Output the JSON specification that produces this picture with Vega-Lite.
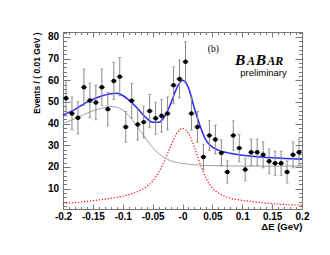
{
  "$schema": "https://vega.github.io/schema/vega-lite/v6.json",
  "width": 239,
  "height": 177,
  "autosize": {"type": "none"},
  "padding": {"left": 63, "top": 32, "right": 28, "bottom": 46},
  "background": "white",
  "config": {
    "view": {"stroke": "#777", "strokeWidth": 1},
    "axis": {"grid": false, "domain": false, "tickColor": "#777", "tickWidth": 1, "labelColor": "black", "titleColor": "black", "labelFont": "Liberation Sans", "titleFont": "Liberation Sans", "labelFlush": false, "labelOverlap": false}
  },
  "datasets": {
    "pts": [
      {"x": -0.195, "y": 51.7, "e": 8.1}, {"x": -0.185, "y": 44.7, "e": 7.6}, {"x": -0.175, "y": 42.7, "e": 7.4},
      {"x": -0.165, "y": 56.8, "e": 8.4}, {"x": -0.155, "y": 50.7, "e": 8.0}, {"x": -0.145, "y": 49.8, "e": 8.0},
      {"x": -0.135, "y": 56.8, "e": 8.4}, {"x": -0.125, "y": 46.7, "e": 7.7}, {"x": -0.115, "y": 59.7, "e": 8.6},
      {"x": -0.105, "y": 61.7, "e": 8.8}, {"x": -0.095, "y": 38.5, "e": 7.1}, {"x": -0.085, "y": 50.6, "e": 8.0},
      {"x": -0.075, "y": 39.6, "e": 7.2}, {"x": -0.065, "y": 40.7, "e": 7.3}, {"x": -0.055, "y": 45.8, "e": 7.7},
      {"x": -0.045, "y": 42.5, "e": 7.4}, {"x": -0.035, "y": 43.6, "e": 7.5}, {"x": -0.025, "y": 44.7, "e": 7.6},
      {"x": -0.015, "y": 57.7, "e": 8.5}, {"x": -0.005, "y": 60.6, "e": 8.7}, {"x": 0.005, "y": 68.6, "e": 9.2},
      {"x": 0.015, "y": 44.7, "e": 7.6}, {"x": 0.025, "y": 38.5, "e": 7.1}, {"x": 0.035, "y": 24.6, "e": 5.9},
      {"x": 0.045, "y": 34.5, "e": 6.8}, {"x": 0.055, "y": 32.7, "e": 6.6}, {"x": 0.065, "y": 26.5, "e": 6.0},
      {"x": 0.075, "y": 17.7, "e": 5.1}, {"x": 0.085, "y": 34.5, "e": 6.8}, {"x": 0.095, "y": 28.7, "e": 6.3},
      {"x": 0.105, "y": 18.8, "e": 5.2}, {"x": 0.115, "y": 26.8, "e": 6.1}, {"x": 0.125, "y": 26.8, "e": 6.1},
      {"x": 0.135, "y": 25.6, "e": 6.0}, {"x": 0.145, "y": 22.6, "e": 5.7}, {"x": 0.155, "y": 21.7, "e": 5.6},
      {"x": 0.165, "y": 21.7, "e": 5.6}, {"x": 0.175, "y": 17.7, "e": 5.1}, {"x": 0.185, "y": 25.6, "e": 6.0},
      {"x": 0.195, "y": 26.8, "e": 6.1}
    ],
    "total": [
      {"x": -0.2, "y": 44.0}, {"x": -0.18, "y": 46.6}, {"x": -0.16, "y": 49.9}, {"x": -0.14, "y": 52.3},
      {"x": -0.12, "y": 53.8}, {"x": -0.11, "y": 54.0}, {"x": -0.1, "y": 53.0}, {"x": -0.09, "y": 51.0},
      {"x": -0.08, "y": 48.4}, {"x": -0.07, "y": 45.4}, {"x": -0.06, "y": 42.5}, {"x": -0.05, "y": 40.6},
      {"x": -0.04, "y": 40.6}, {"x": -0.03, "y": 43.3}, {"x": -0.02, "y": 49.0}, {"x": -0.01, "y": 56.2},
      {"x": 0.0, "y": 60.0}, {"x": 0.01, "y": 56.5}, {"x": 0.02, "y": 47.0}, {"x": 0.03, "y": 38.5},
      {"x": 0.04, "y": 32.0}, {"x": 0.05, "y": 29.2}, {"x": 0.06, "y": 27.8}, {"x": 0.07, "y": 26.9},
      {"x": 0.08, "y": 26.3}, {"x": 0.1, "y": 25.4}, {"x": 0.12, "y": 24.8}, {"x": 0.15, "y": 24.2},
      {"x": 0.2, "y": 23.6}
    ],
    "bkg": [
      {"x": -0.2, "y": 40.0}, {"x": -0.18, "y": 42.3}, {"x": -0.16, "y": 44.8}, {"x": -0.14, "y": 46.8},
      {"x": -0.12, "y": 47.9}, {"x": -0.11, "y": 47.6}, {"x": -0.1, "y": 46.2}, {"x": -0.09, "y": 43.8},
      {"x": -0.08, "y": 40.3}, {"x": -0.07, "y": 36.5}, {"x": -0.06, "y": 32.5}, {"x": -0.05, "y": 29.0},
      {"x": -0.04, "y": 26.2}, {"x": -0.03, "y": 24.2}, {"x": -0.02, "y": 22.9}, {"x": -0.01, "y": 22.1},
      {"x": 0.0, "y": 21.6}, {"x": 0.02, "y": 21.0}, {"x": 0.04, "y": 20.7}, {"x": 0.07, "y": 20.5},
      {"x": 0.1, "y": 20.4}, {"x": 0.15, "y": 20.4}, {"x": 0.2, "y": 20.5}
    ],
    "sig": [
      {"x": -0.2, "y": 3.2}, {"x": -0.18, "y": 3.6}, {"x": -0.16, "y": 4.1}, {"x": -0.14, "y": 4.8},
      {"x": -0.12, "y": 5.5}, {"x": -0.1, "y": 6.5}, {"x": -0.09, "y": 7.2}, {"x": -0.08, "y": 8.1},
      {"x": -0.07, "y": 9.3}, {"x": -0.06, "y": 11.0}, {"x": -0.05, "y": 13.5}, {"x": -0.04, "y": 17.5},
      {"x": -0.03, "y": 23.0}, {"x": -0.02, "y": 29.5}, {"x": -0.01, "y": 35.3}, {"x": 0.0, "y": 37.8},
      {"x": 0.01, "y": 35.5}, {"x": 0.02, "y": 29.0}, {"x": 0.03, "y": 21.0}, {"x": 0.04, "y": 14.5},
      {"x": 0.05, "y": 10.3}, {"x": 0.06, "y": 8.0}, {"x": 0.07, "y": 6.6}, {"x": 0.08, "y": 5.6},
      {"x": 0.1, "y": 4.6}, {"x": 0.12, "y": 3.9}, {"x": 0.15, "y": 3.1}, {"x": 0.2, "y": 2.3}
    ]
  },
  "layer": [
    {
      "data": {"name": "sig"},
      "mark": {"type": "line", "color": "#ff0000", "strokeWidth": 1.2, "strokeDash": [1.2, 1.8], "interpolate": "monotone"},
      "encoding": {
        "x": {"field": "x", "type": "quantitative", "scale": {"domain": [-0.2, 0.2], "nice": false, "zero": false},
          "axis": {"orient": "bottom", "values": [-0.2, -0.15, -0.1, -0.05, 0, 0.05, 0.1, 0.15, 0.2], "tickSize": -5, "labelPadding": 7, "labelFontSize": 10, "labelFontWeight": "bold",
            "labelExpr": "abs(datum.value) < 0.0001 ? '-0' : (datum.value < 0 ? '-' + format(-datum.value, '~g') : format(datum.value, '~g'))",
            "title": "ΔE (GeV)", "titleFontSize": 9.5, "titleFontWeight": "bold", "titleAnchor": "end", "titleAlign": "right", "titleBaseline": "top", "titleX": 239, "titleY": 12.5}},
        "y": {"field": "y", "type": "quantitative", "scale": {"domain": [0.6, 82.3], "nice": false, "zero": false},
          "axis": {"orient": "left", "values": [10, 20, 30, 40, 50, 60, 70, 80], "tickSize": -7, "labelPadding": 11.5, "labelFontSize": 10, "labelFontWeight": "bold",
            "title": "Events / ( 0.01 GeV )", "titleFontSize": 8.5, "titleFontWeight": "bold", "titleAngle": 270, "titleAlign": "right", "titleBaseline": "middle", "titleAnchor": "end", "titleX": -26.5, "titleY": 0}}
      }
    },
    {
      "data": {"name": "bkg"},
      "mark": {"type": "line", "color": "#a0a0a0", "strokeWidth": 1, "interpolate": "monotone"},
      "encoding": {
        "x": {"field": "x", "type": "quantitative", "scale": {"domain": [-0.2, 0.2], "nice": false, "zero": false},
          "axis": {"orient": "bottom", "values": [-0.2, -0.19, -0.18, -0.17, -0.16, -0.15, -0.14, -0.13, -0.12, -0.11, -0.1, -0.09, -0.08, -0.07, -0.06, -0.05, -0.04, -0.03, -0.02, -0.01, 0, 0.01, 0.02, 0.03, 0.04, 0.05, 0.06, 0.07, 0.08, 0.09, 0.1, 0.11, 0.12, 0.13, 0.14, 0.15, 0.16, 0.17, 0.18, 0.19, 0.2], "tickSize": -2.5, "labels": false, "title": null}},
        "y": {"field": "y", "type": "quantitative", "scale": {"domain": [0.6, 82.3], "nice": false, "zero": false},
          "axis": {"orient": "left", "values": [2, 4, 6, 8, 10, 12, 14, 16, 18, 20, 22, 24, 26, 28, 30, 32, 34, 36, 38, 40, 42, 44, 46, 48, 50, 52, 54, 56, 58, 60, 62, 64, 66, 68, 70, 72, 74, 76, 78, 80, 82], "tickSize": -3.5, "labels": false, "title": null}}
      }
    },
    {
      "data": {"name": "total"},
      "mark": {"type": "line", "color": "#2a2aff", "strokeWidth": 1.5, "interpolate": "monotone"},
      "encoding": {
        "x": {"field": "x", "type": "quantitative", "scale": {"domain": [-0.2, 0.2], "nice": false, "zero": false},
          "axis": {"orient": "top", "values": [-0.2, -0.15, -0.1, -0.05, 0, 0.05, 0.1, 0.15, 0.2], "tickSize": -5, "labels": false, "title": null}},
        "y": {"field": "y", "type": "quantitative", "scale": {"domain": [0.6, 82.3], "nice": false, "zero": false},
          "axis": {"orient": "right", "values": [10, 20, 30, 40, 50, 60, 70, 80], "tickSize": -7, "labels": false, "title": null}}
      }
    },
    {
      "data": {"name": "pts"},
      "mark": {"type": "errorbar", "color": "#888888", "thickness": 1, "ticks": {"size": 3, "color": "#888888"}},
      "encoding": {
        "x": {"field": "x", "type": "quantitative", "scale": {"domain": [-0.2, 0.2], "nice": false, "zero": false},
          "axis": {"orient": "top", "values": [-0.2, -0.19, -0.18, -0.17, -0.16, -0.15, -0.14, -0.13, -0.12, -0.11, -0.1, -0.09, -0.08, -0.07, -0.06, -0.05, -0.04, -0.03, -0.02, -0.01, 0, 0.01, 0.02, 0.03, 0.04, 0.05, 0.06, 0.07, 0.08, 0.09, 0.1, 0.11, 0.12, 0.13, 0.14, 0.15, 0.16, 0.17, 0.18, 0.19, 0.2], "tickSize": -2.5, "labels": false, "title": null}},
        "y": {"field": "y", "type": "quantitative", "scale": {"domain": [0.6, 82.3], "nice": false, "zero": false},
          "axis": {"orient": "right", "values": [2, 4, 6, 8, 10, 12, 14, 16, 18, 20, 22, 24, 26, 28, 30, 32, 34, 36, 38, 40, 42, 44, 46, 48, 50, 52, 54, 56, 58, 60, 62, 64, 66, 68, 70, 72, 74, 76, 78, 80, 82], "tickSize": -3.5, "labels": false, "title": null}},
        "yError": {"field": "e"}
      }
    },
    {
      "data": {"name": "pts"},
      "mark": {"type": "tick", "orient": "horizontal", "color": "black", "size": 6, "thickness": 1.2},
      "encoding": {
        "x": {"field": "x", "type": "quantitative", "scale": {"domain": [-0.2, 0.2], "nice": false, "zero": false}, "axis": null},
        "y": {"field": "y", "type": "quantitative", "scale": {"domain": [0.6, 82.3], "nice": false, "zero": false}, "axis": null}
      }
    },
    {
      "data": {"name": "pts"},
      "mark": {"type": "point", "shape": "circle", "filled": true, "color": "black", "size": 20, "opacity": 1},
      "encoding": {
        "x": {"field": "x", "type": "quantitative", "scale": {"domain": [-0.2, 0.2], "nice": false, "zero": false}, "axis": null},
        "y": {"field": "y", "type": "quantitative", "scale": {"domain": [0.6, 82.3], "nice": false, "zero": false}, "axis": null}
      }
    },
    {
      "data": {"values": [{"x": 0.0515, "y": 74.3, "t": "(b)"}]},
      "mark": {"type": "text", "font": "Liberation Serif", "fontSize": 9.5, "align": "center", "baseline": "middle", "color": "black"},
      "encoding": {
        "x": {"field": "x", "type": "quantitative", "scale": {"domain": [-0.2, 0.2], "nice": false, "zero": false}, "axis": null},
        "y": {"field": "y", "type": "quantitative", "scale": {"domain": [0.6, 82.3], "nice": false, "zero": false}, "axis": null},
        "text": {"field": "t"}
      }
    },
    {
      "data": {"values": [{"x": 0.0879, "y": 67.2, "t": "B"}, {"x": 0.1225, "y": 67.2, "t": "B"}]},
      "mark": {"type": "text", "font": "Liberation Serif", "fontSize": 15.5, "fontWeight": "bold", "fontStyle": "italic", "align": "left", "baseline": "alphabetic", "color": "black"},
      "encoding": {
        "x": {"field": "x", "type": "quantitative", "scale": {"domain": [-0.2, 0.2], "nice": false, "zero": false}, "axis": null},
        "y": {"field": "y", "type": "quantitative", "scale": {"domain": [0.6, 82.3], "nice": false, "zero": false}, "axis": null},
        "text": {"field": "t"}
      }
    },
    {
      "data": {"values": [{"x": 0.1078, "y": 67.2, "t": "A"}, {"x": 0.1418, "y": 67.2, "t": "AR"}]},
      "mark": {"type": "text", "font": "Liberation Serif", "fontSize": 12, "fontWeight": "bold", "fontStyle": "italic", "align": "left", "baseline": "alphabetic", "color": "black"},
      "encoding": {
        "x": {"field": "x", "type": "quantitative", "scale": {"domain": [-0.2, 0.2], "nice": false, "zero": false}, "axis": null},
        "y": {"field": "y", "type": "quantitative", "scale": {"domain": [0.6, 82.3], "nice": false, "zero": false}, "axis": null},
        "text": {"field": "t"}
      }
    },
    {
      "data": {"values": [{"x": 0.1356, "y": 62.0, "t": "preliminary"}]},
      "mark": {"type": "text", "font": "Liberation Sans", "fontSize": 9.5, "align": "center", "baseline": "alphabetic", "color": "black"},
      "encoding": {
        "x": {"field": "x", "type": "quantitative", "scale": {"domain": [-0.2, 0.2], "nice": false, "zero": false}, "axis": null},
        "y": {"field": "y", "type": "quantitative", "scale": {"domain": [0.6, 82.3], "nice": false, "zero": false}, "axis": null},
        "text": {"field": "t"}
      }
    }
  ],
  "resolve": {"axis": {"x": "independent", "y": "independent"}}
}
